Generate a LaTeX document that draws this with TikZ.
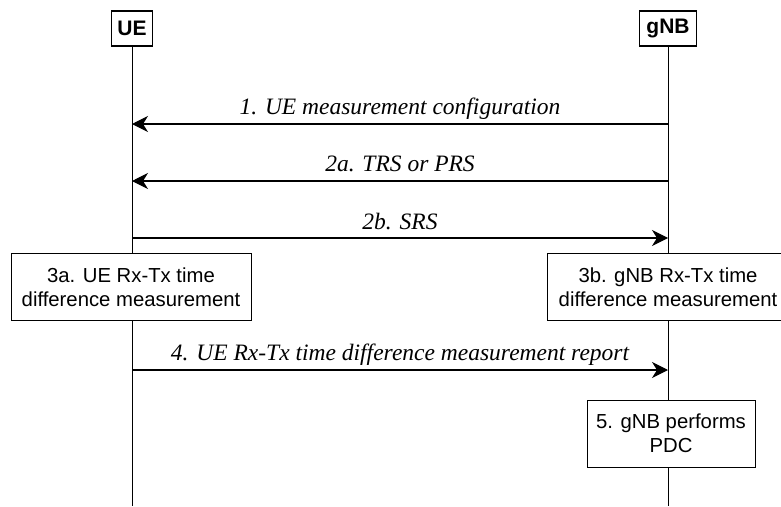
\documentclass[tikz,border=0pt]{standalone}
\usepackage{fontspec}
\setmainfont{Liberation Serif}
\setsansfont{Liberation Sans}
\usetikzlibrary{arrows.meta}
\begin{document}
\begin{tikzpicture}[x=1pt,y=-1pt,
  ent/.style={draw,line width=1.5pt,font=\sffamily\bfseries\fontsize{21}{23}\selectfont,inner sep=3pt,minimum height=35,anchor=north},
  act/.style={draw,line width=1pt,font=\sffamily\fontsize{20.3}{24}\selectfont,align=center,inner sep=0pt},
  life/.style={line width=1pt},
  msg/.style={line width=1.1pt,-{Stealth[length=16pt,width=16pt,inset=5pt]}},
  lbl/.style={font=\itshape\fontsize{23.5}{26}\selectfont,anchor=base}]
\useasboundingbox (0,0) rectangle (781,506);
\begin{scope}
\clip (0,0) rectangle (781,506);
\node[ent,minimum width=41] (ue) at (132,10) {UE};
\node[ent,minimum width=57] (gnb) at (668,10) {gNB};
\coordinate (ueb) at (132,506);
\coordinate (gnbb) at (668,506);
\draw[life] (ue.south) -- (ueb);
\draw[life] (gnb.south) -- (gnbb);
\node[act,fill=white,minimum width=240,minimum height=67] (s3a) at (131,287) {3a. UE Rx-Tx time\\difference measurement};
\node[act,fill=white,minimum width=242,minimum height=67] (s3b) at (668,287) {3b. gNB Rx-Tx time\\difference measurement};
\node[act,fill=white,minimum width=168,minimum height=67] (s5) at (671,433.5) {5. gNB performs\\PDC};
\coordinate (g1) at (668,124); \coordinate (u1) at (132,124);
\coordinate (g2) at (668,181); \coordinate (u2) at (132,181);
\coordinate (g3) at (668,238); \coordinate (u3) at (132,238);
\coordinate (g4) at (668,370); \coordinate (u4) at (132,370);
\draw[msg] (g1) -- (u1);
\draw[msg] (g2) -- (u2);
\draw[msg] (u3) -- (g3);
\draw[msg] (u4) -- (g4);
\node[lbl] (l1) at (400,114) {1. UE measurement configuration};
\node[lbl] (l2) at (400,171) {2a. TRS or PRS};
\node[lbl] (l3) at (400,229) {2b. SRS};
\node[lbl] (l4) at (400,360) {4. UE Rx-Tx time difference measurement report};
\end{scope}
\end{tikzpicture}
\end{document}
